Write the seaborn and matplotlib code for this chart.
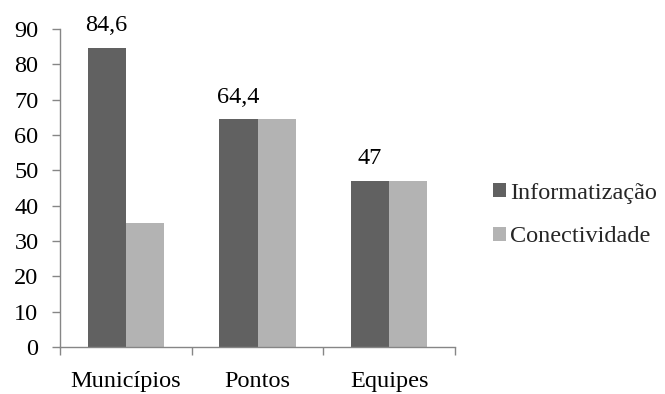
import matplotlib
matplotlib.use("Agg")
import matplotlib.pyplot as plt
import seaborn as sns
import pandas as pd
from matplotlib.patches import Patch

categories = ["Municípios", "Pontos", "Equipes"]
informatizacao = [84.6, 64.4, 47]
conectividade = [35, 64.4, 47]
series_names = ["Informatização", "Conectividade"]
label_texts = ["84,6", "64,4", "47"]
yticks = [0, 10, 20, 30, 40, 50, 60, 70, 80, 90]

sns.set_theme(style="white")
plt.rcParams["font.family"] = ["Liberation Serif", "DejaVu Serif"]

df = pd.DataFrame({
    "categoria": categories * 2,
    "valor": informatizacao + conectividade,
    "serie": [series_names[0]] * 3 + [series_names[1]] * 3,
})

colors = ["#616161", "#b3b3b3"]
fs = 17.5

fig = plt.figure(figsize=(6.65, 3.94), dpi=100)
ax = fig.add_axes([60 / 665, 1 - 347 / 394, (455 - 60) / 665, (347 - 29) / 394])

sns.barplot(data=df, x="categoria", y="valor", hue="serie", palette=colors,
            width=0.58, linewidth=0, saturation=1, ax=ax, legend=False)

ax.set_xlim(-0.5, 2.5)
ax.set_ylim(0, 90)
ax.set_yticks(yticks)
ax.set_yticklabels([str(t) for t in yticks])
ax.set_xlabel("")
ax.set_ylabel("")

# value labels above the first series
for i, (v, txt) in enumerate(zip(informatizacao, label_texts)):
    ax.annotate(txt, xy=(i - 0.145, v), xytext=(0, 8.5), textcoords="offset points",
                ha="center", va="bottom", fontsize=fs, color="black")

axis_color = "#868686"
for side in ["top", "right"]:
    ax.spines[side].set_visible(False)
for side in ["left", "bottom"]:
    ax.spines[side].set_color(axis_color)
    ax.spines[side].set_linewidth(1.0)

ax.tick_params(axis="y", which="major", direction="out", length=5.5, width=1,
               color=axis_color, pad=10, labelsize=fs, labelcolor="black", left=True)
ax.set_xticks([-0.5, 0.5, 1.5, 2.5], minor=True)
ax.tick_params(axis="x", which="minor", direction="out", length=5.5, width=1,
               color=axis_color, bottom=True)
ax.tick_params(axis="x", which="major", length=0, pad=17, labelsize=fs,
               labelcolor="black")

handles = [Patch(facecolor=c, edgecolor="none") for c in colors]
fig.legend(handles, series_names, loc="center left",
           bbox_to_anchor=(493 / 665, 1 - 215 / 394), frameon=False,
           fontsize=fs, handlelength=0.535, handleheight=0.535, handletextpad=0.16,
           labelspacing=0.94, borderpad=0, borderaxespad=0)

fig.savefig("out.png", dpi=100, facecolor="white")
